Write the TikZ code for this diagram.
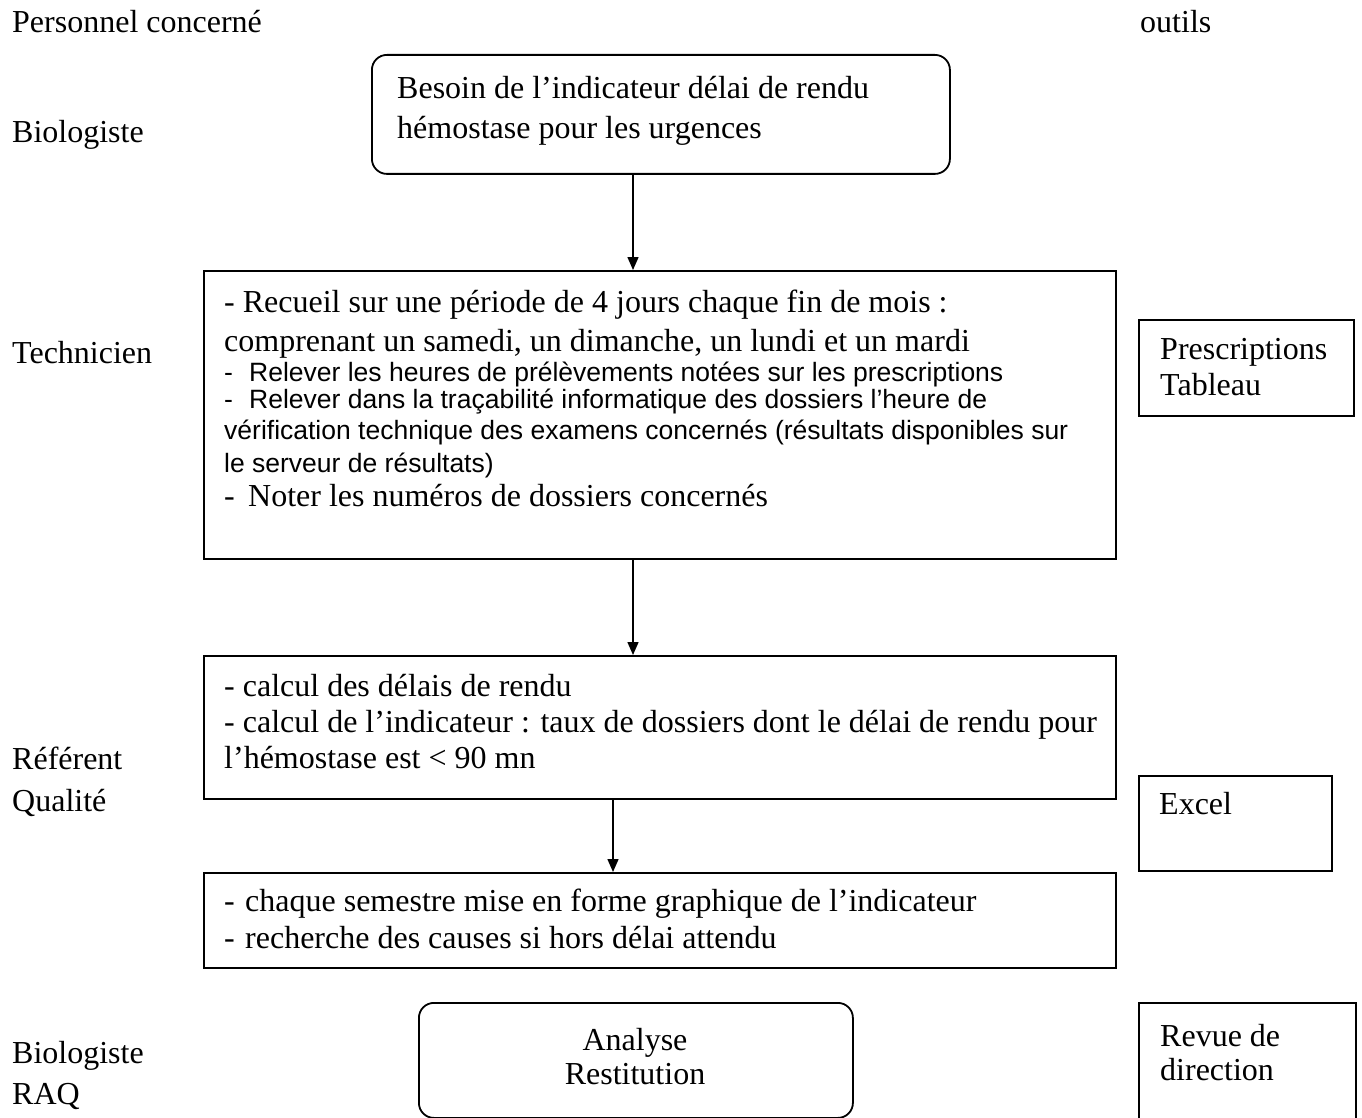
\documentclass[tikz,border=0pt]{standalone}
\usepackage{fontspec}
\setmainfont{Liberation Serif}
\newfontfamily\arialfont{Liberation Sans}
\usetikzlibrary{arrows.meta}
\begin{document}
\begin{tikzpicture}[x=1pt,y=-1pt,
  frame/.style={draw=black, line width=1.8pt, inner sep=0pt, anchor=north west},
  roundframe/.style={frame, rounded corners=15pt},
  tm/.style={anchor=base west, inner sep=0pt, font=\fontsize{32}{38}\selectfont},
  tmc/.style={tm, anchor=base},
  ar/.style={anchor=base west, inner sep=0pt, font=\arialfont\fontsize{26.5}{32}\selectfont},
  flow/.style={line width=1.5pt, -{Triangle[length=13pt,width=11pt]}}
]
\useasboundingbox (0,0) rectangle (1362,1118);
\clip (0,0) rectangle (1362,1118);

% column headings
\node[tm] (hdrL) at (12,33) {Personnel concerné};
\node[tm] (hdrR) at (1140,33) {outils};

% staff involved at each step
\node[tm] (r1)  at (12,143)  {Biologiste};
\node[tm] (r2)  at (12,363)  {Technicien};
\node[tm] (r3a) at (12,769)  {Référent};
\node[tm] (r3b) at (12,811)  {Qualité};
\node[tm] (r4a) at (12,1063) {Biologiste};
\node[tm] (r4b) at (12,1104) {RAQ};

% process boxes
\node[roundframe, minimum width=578, minimum height=119] (b1) at (371,54) {};
\node[frame, minimum width=912, minimum height=288] (b2) at (203,270) {};
\node[frame, minimum width=912, minimum height=143] (b3) at (203,655) {};
\node[frame, minimum width=912, minimum height=95]  (b4) at (203,872) {};
\node[roundframe, minimum width=434, minimum height=115] (b5) at (418,1002) {};

% tool boxes
\node[frame, minimum width=215, minimum height=96]  (t1) at (1138,319) {};
\node[frame, minimum width=193, minimum height=95]  (t2) at (1138,775) {};
\node[frame, minimum width=217, minimum height=140] (t3) at (1138,1002) {};

% box texts
\node[tm] (b1l1) at (397,99)  {Besoin de l’indicateur délai de rendu};
\node[tm] (b1l2) at (397,139) {hémostase pour les urgences};

\node[tm] (b2l1) at (224,312) {- Recueil sur une période de 4 jours chaque fin de mois :};
\node[tm] (b2l2) at (224,351) {comprenant un samedi, un dimanche, un lundi et un mardi};
\node[ar] (b2l3) at (224,381) {\makebox[25pt][l]{-}Relever les heures de prélèvements notées sur les prescriptions};
\node[ar] (b2l4) at (224,408) {\makebox[25pt][l]{-}Relever dans la traçabilité informatique des dossiers l’heure de};
\node[ar] (b2l5) at (224,439) {vérification technique des examens concernés (résultats disponibles sur};
\node[ar] (b2l6) at (224,472) {le serveur de résultats)};
\node[tm] (b2l7) at (224,506) {\makebox[24pt][l]{-}Noter les numéros de dossiers concernés};

\node[tm] (b3l1) at (224,696) {- calcul des délais de rendu};
\node[tm] (b3l2) at (224,732) {- calcul de l’indicateur : taux de dossiers dont le délai de rendu pour};
\node[tm] (b3l3) at (224,768) {l’hémostase est < 90 mn};

\node[tm] (b4l1) at (224,911) {\makebox[21pt][l]{-}chaque semestre mise en forme graphique de l’indicateur};
\node[tm] (b4l2) at (224,948) {\makebox[21pt][l]{-}recherche des causes si hors délai attendu};

\node[tmc] (b5l1) at (635,1050) {Analyse};
\node[tmc] (b5l2) at (635,1084) {Restitution};

\node[tm] (t1l1) at (1160,359)  {Prescriptions};
\node[tm] (t1l2) at (1160,395)  {Tableau};
\node[tm] (t2l1) at (1159,814)  {Excel};
\node[tm] (t3l1) at (1160,1046) {Revue de};
\node[tm] (t3l2) at (1160,1080) {direction};

% flow arrows
\coordinate (ax1) at (633,0);
\coordinate (ax3) at (613,0);
\draw[flow] (b1.south -| ax1) -- (b2.north -| ax1);
\draw[flow] (b2.south -| ax1) -- (b3.north -| ax1);
\draw[flow] (b3.south -| ax3) -- (b4.north -| ax3);
\end{tikzpicture}
\end{document}
